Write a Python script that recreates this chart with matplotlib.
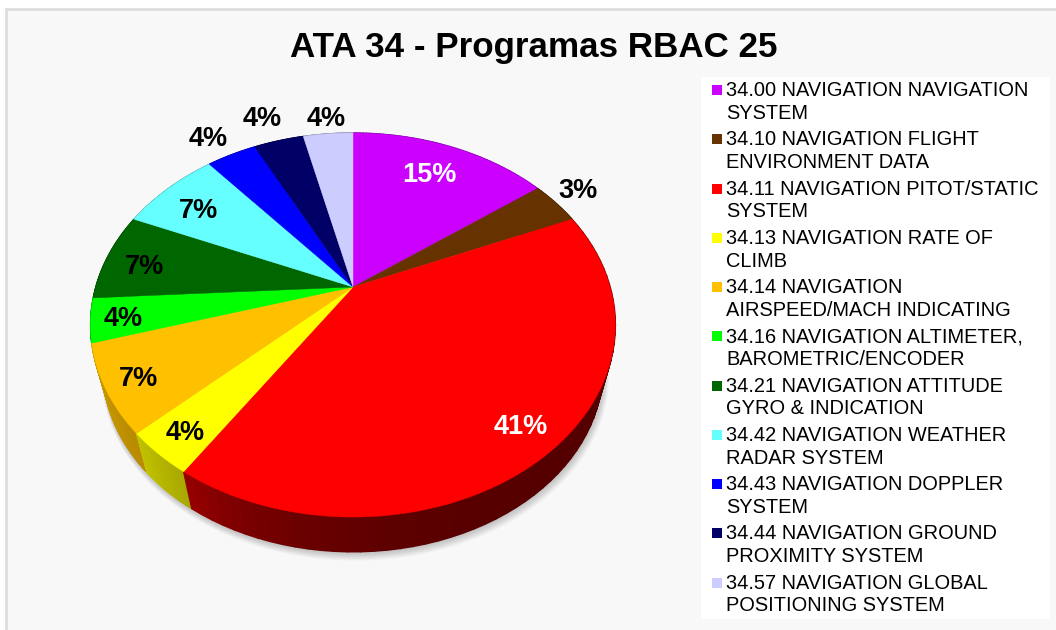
import numpy as np
import matplotlib
matplotlib.use('Agg')
import matplotlib.pyplot as plt
from matplotlib.collections import PolyCollection
from matplotlib.patches import Polygon, Rectangle

plt.rcParams['font.family'] = ['Liberation Sans', 'DejaVu Sans']

# data, clockwise from 12 o'clock
title = 'ATA 34 - Programas RBAC 25'
counts = [4, 1, 11, 1, 2, 1, 2, 2, 1, 1, 1]
pct_labels = ['15%', '3%', '41%', '4%', '7%', '4%', '7%', '7%', '4%', '4%', '4%']
legend_labels = [
    '34.00 NAVIGATION NAVIGATION\nSYSTEM',
    '34.10 NAVIGATION FLIGHT\nENVIRONMENT DATA',
    '34.11 NAVIGATION PITOT/STATIC\nSYSTEM',
    '34.13 NAVIGATION RATE OF\nCLIMB',
    '34.14 NAVIGATION\nAIRSPEED/MACH INDICATING',
    '34.16 NAVIGATION ALTIMETER,\nBAROMETRIC/ENCODER',
    '34.21 NAVIGATION ATTITUDE\nGYRO & INDICATION',
    '34.42 NAVIGATION WEATHER\nRADAR SYSTEM',
    '34.43 NAVIGATION DOPPLER\nSYSTEM',
    '34.44 NAVIGATION GROUND\nPROXIMITY SYSTEM',
    '34.57 NAVIGATION GLOBAL\nPOSITIONING SYSTEM',
]
colors = ['#cc00ff', '#663300', '#ff0000', '#ffff00', '#ffc000', '#00ff00',
          '#006600', '#66ffff', '#0000ff', '#000066', '#ccccff']
label_pos = [(429, 175.5), (578, 191.5), (521, 426.5), (185, 433.5), (138, 378.5), (123, 318.5),
             (145, 266.5), (199, 210.5), (208, 138.5), (262, 119.5), (326, 118.5)]
label_col = ['white', 'k', 'white', 'k', 'k', 'k', 'k', 'k', 'k', 'k', 'k']
# side wall shading at start/end of each slice
shade_a = [.6, .6, .33, .66, .72, .7, .7, .7, .7, .7, .7]
shade_b = [.6, .6, .58, .76, .82, .7, .7, .7, .7, .7, .7]
shade_pow = [1, 1, 6, 1, 1, 1, 1, 1, 1, 1, 1]

fig = plt.figure(figsize=(10.56, 6.3), dpi=100)
ax = fig.add_axes([0, 0, 1, 1])
ax.set_xlim(0, 1056)
ax.set_ylim(630, 0)
ax.axis('off')

# chart background
ax.add_patch(Rectangle((6, 9), 1060, 630, fc='#f8f8f8', ec='#dedede', lw=2))

# perspective disc: apex at (353, 287), g tilts the plane
g = 0.198


def top_xy(theta):
    u, v = np.sin(theta), np.cos(theta)
    d = 1 + g * v
    return np.c_[353 + 257.2 * u / d, 287 - 184.5 * v / d]


def low_xy(theta):
    p = top_xy(theta)
    return np.c_[353 + (p[:, 0] - 353) * .952, 369 + (p[:, 1] - 325) * .952]


edges = np.cumsum([0] + counts) / sum(counts) * 2 * np.pi

# soft shadow under the pie
circle = np.linspace(0, 2 * np.pi, 300)
for k in range(10, 0, -1):
    p = low_xy(circle)
    c = np.array([353, 369])
    ax.add_patch(Polygon(c + (p - c) * (1 + k * .0016) + [k * .25, k * .6],
                         fc='k', ec='none', alpha=.022))

# side walls, back strips first so the front ones cover them
quads, cols, depth = [], [], []
for i in range(len(counts)):
    th = np.linspace(edges[i], edges[i + 1], 60)
    a, b = top_xy(th), low_xy(th)
    s = shade_a[i] + (shade_b[i] - shade_a[i]) * np.linspace(0, 1, len(th) - 1) ** shade_pow[i]
    base = np.array(matplotlib.colors.to_rgb(colors[i]))
    for j in range(len(th) - 1):
        quads.append([a[j], a[j + 1], b[j + 1], b[j]])
        cols.append(base * s[j])
        depth.append(np.cos(th[j]))
order = np.argsort(depth)[::-1]
ax.add_collection(PolyCollection([quads[j] for j in order], facecolors=[cols[j] for j in order],
                                 edgecolors='face', linewidths=1.0))

# top faces
for i in range(len(counts)):
    th = np.linspace(edges[i], edges[i + 1], 80)
    pts = np.vstack([[[353, 287]], top_xy(th)])
    ax.add_patch(Polygon(pts, fc=colors[i], ec=colors[i], lw=.3))

for i in range(len(counts)):
    ax.text(label_pos[i][0], label_pos[i][1], pct_labels[i], color=label_col[i],
            fontsize=19.5, fontweight='bold', ha='center', va='center')

ax.text(534, 47.5, title, fontsize=25.2, fontweight='bold', ha='center', va='center', color='k')

# legend
ax.add_patch(Rectangle((701, 77), 349, 542, fc='white', ec='none'))
for i in range(len(legend_labels)):
    y = 102 + i * 49.25
    ax.add_patch(Rectangle((712, y - 17), 10, 10, fc=colors[i], ec='none'))
    ax.text(726, y, legend_labels[i], fontsize=14.45, ha='left', va='center',
            color='k', linespacing=1.26)

fig.savefig('out.png', dpi=100)
